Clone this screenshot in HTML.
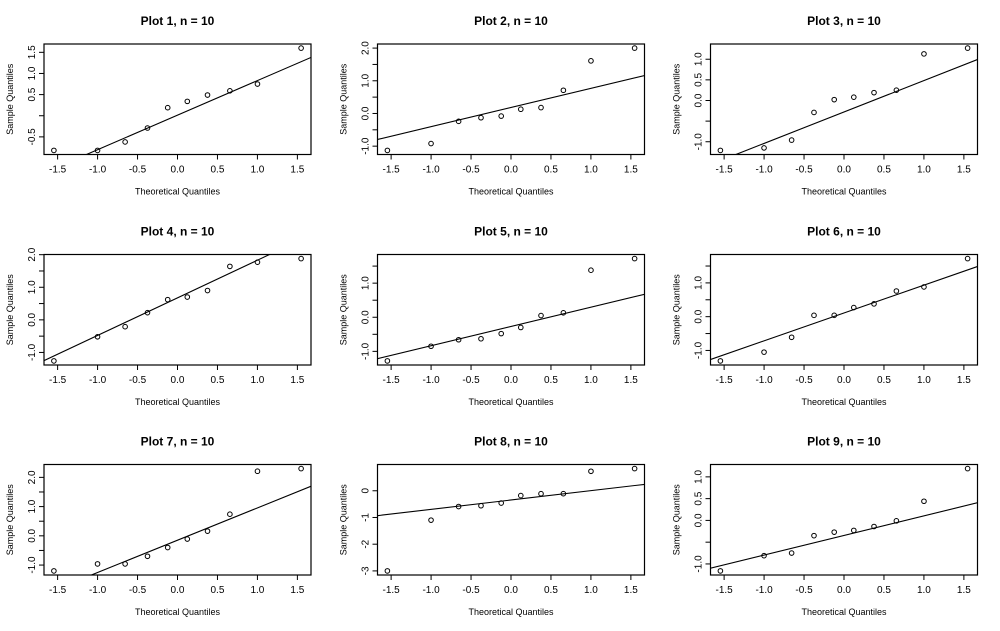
<!DOCTYPE html>
<html><head><meta charset="utf-8"><style>
html,body{margin:0;padding:0;background:#fff;}
svg{display:block;font-family:"Liberation Sans",Arial,sans-serif;}
</style></head><body>
<svg id="chart" width="1000" height="631" viewBox="0 0 1000 631"></svg>
<script>
const plotTitles = ["Plot 1, n = 10","Plot 2, n = 10","Plot 3, n = 10","Plot 4, n = 10","Plot 5, n = 10","Plot 6, n = 10","Plot 7, n = 10","Plot 8, n = 10","Plot 9, n = 10"];
const sample1 = [-0.82,-0.82,-0.62,-0.29,0.19,0.34,0.49,0.59,0.75,1.60];
const sample2 = [-1.13,-0.92,-0.24,-0.13,-0.08,0.13,0.18,0.71,1.61,2.00];
const sample3 = [-1.21,-1.15,-0.96,-0.29,0.02,0.08,0.19,0.25,1.13,1.27];
const sample4 = [-1.26,-0.52,-0.21,0.22,0.62,0.70,0.90,1.64,1.77,1.88];
const sample5 = [-1.28,-0.85,-0.66,-0.63,-0.48,-0.30,0.05,0.13,1.38,1.72];
const sample6 = [-1.31,-1.05,-0.61,0.04,0.04,0.27,0.38,0.76,0.88,1.72];
const sample7 = [-1.20,-0.96,-0.96,-0.70,-0.40,-0.11,0.16,0.74,2.21,2.30];
const sample8 = [-3.00,-1.10,-0.59,-0.56,-0.46,-0.18,-0.11,-0.11,0.73,0.83];
const sample9 = [-1.16,-0.81,-0.75,-0.35,-0.27,-0.23,-0.14,-0.01,0.44,1.19];
const xTicks = [-1.5,-1.0,-0.5,0.0,0.5,1.0,1.5];
const xTickLabels = ["-1.5","-1.0","-0.5","0.0","0.5","1.0","1.5"];
const yTicks1 = [-0.5,0,0.5,1.0,1.5], yLabels1 = ["-0.5","","0.5","1.0","1.5"];
const yTicks2 = [-1,-0.5,0,0.5,1,1.5,2], yLabels2 = ["-1.0","","0.0","","1.0","","2.0"];
const yTicks3 = [-1,-0.5,0,0.5,1], yLabels3 = ["-1.0","","0.0","0.5","1.0"];
const yTicks4 = [-1,-0.5,0,0.5,1,1.5,2], yLabels4 = ["-1.0","","0.0","","1.0","","2.0"];
const yTicks5 = [-1,-0.5,0,0.5,1,1.5], yLabels5 = ["-1.0","","0.0","","1.0",""];
const yTicks6 = [-1,-0.5,0,0.5,1,1.5], yLabels6 = ["-1.0","","0.0","","1.0",""];
const yTicks7 = [-1,-0.5,0,0.5,1,1.5,2], yLabels7 = ["-1.0","","0.0","","1.0","","2.0"];
const yTicks8 = [-3,-2,-1,0], yLabels8 = ["-3","-2","-1","0"];
const yTicks9 = [-1,-0.5,0,0.5,1], yLabels9 = ["-1.0","","0.0","0.5","1.0"];

const samples=[sample1,sample2,sample3,sample4,sample5,sample6,sample7,sample8,sample9];
const yTicks=[yTicks1,yTicks2,yTicks3,yTicks4,yTicks5,yTicks6,yTicks7,yTicks8,yTicks9];
const yLabels=[yLabels1,yLabels2,yLabels3,yLabels4,yLabels5,yLabels6,yLabels7,yLabels8,yLabels9];

const NS="http://www.w3.org/2000/svg";
const svg=document.getElementById('chart');
function mk(tag,attrs,parent){const e=document.createElementNS(NS,tag);for(const k in attrs)e.setAttribute(k,attrs[k]);(parent||svg).appendChild(e);return e;}
function qnorm(p){ // Acklam approximation
  const a=[-39.6968302866538,220.946098424521,-275.928510446969,138.357751867269,-30.6647980661472,2.50662827745924];
  const b=[-54.4760987982241,161.585836858041,-155.698979859887,66.8013118877197,-13.2806815528857];
  const c=[-0.00778489400243029,-0.322396458041136,-2.40075827716184,-2.54973253934373,4.37466414146497,2.93816398269878];
  const d=[0.00778469570904146,0.32246712907004,2.445134137143,3.75440866190742];
  let q,r;
  if(p<0.02425){q=Math.sqrt(-2*Math.log(p));return (((((c[0]*q+c[1])*q+c[2])*q+c[3])*q+c[4])*q+c[5])/((((d[0]*q+d[1])*q+d[2])*q+d[3])*q+1);}
  if(p>1-0.02425){q=Math.sqrt(-2*Math.log(1-p));return -(((((c[0]*q+c[1])*q+c[2])*q+c[3])*q+c[4])*q+c[5])/((((d[0]*q+d[1])*q+d[2])*q+d[3])*q+1);}
  q=p-0.5;r=q*q;return (((((a[0]*r+a[1])*r+a[2])*r+a[3])*r+a[4])*r+a[5])*q/(((((b[0]*r+b[1])*r+b[2])*r+b[3])*r+b[4])*r+1);
}
function quant7(arr,p){const s=[...arr].sort((a,b)=>a-b);const h=(s.length-1)*p;const lo=Math.floor(h);return s[lo]+(h-lo)*((s[Math.min(lo+1,s.length-1)])-s[lo]);}

const colX=[44,377.5,710.5], rowY=[44,254.5,464.5], BW=267, BH=110.5;
const n=10;
for(let k=0;k<9;k++){
  const y=[...samples[k]].sort((a,b)=>a-b);
  const tq=y.map((_,i)=>qnorm((i+1-0.375)/(n+0.25)));
  const xmin=tq[0],xmax=tq[n-1],xr=xmax-xmin;
  const x0=xmin-0.04*xr,x1=xmax+0.04*xr;
  const ymin=Math.min(...y),ymax=Math.max(...y),yr=ymax-ymin;
  const y0=ymin-0.04*yr,y1=ymax+0.04*yr;
  const L=colX[k%3],T=rowY[Math.floor(k/3)];
  const sx=v=>L+(v-x0)/(x1-x0)*BW;
  const sy=v=>T+BH-(v-y0)/(y1-y0)*BH;
  const g=mk('g',{});
  
  
  const t=mk('text',{x:L+BW/2,y:T-19,'text-anchor':'middle','font-size':'12','font-weight':'bold',fill:'#000'},g);
  t.textContent=plotTitles[k];
  
  
  const clipId='clip'+k;
  const cp=mk('clipPath',{id:clipId},g);mk('rect',{x:L,y:T,width:BW,height:BH},cp);
  // qqline
  const q1=quant7(y,0.25),q3=quant7(y,0.75),z1=qnorm(0.25),z3=qnorm(0.75);
  const slope=(q3-q1)/(z3-z1),icpt=q1-slope*z1;
  const ln=mk('line',{x1:sx(x0-1),y1:sy(icpt+slope*(x0-1)),x2:sx(x1+1),y2:sy(icpt+slope*(x1+1)),stroke:'#000','stroke-width':'1.1','clip-path':'url(#'+clipId+')'},g);
  
  
  for(let i=0;i<n;i++){
    const c=mk('circle',{cx:sx(tq[i]),cy:sy(y[i]),r:2.3,fill:'none',stroke:'#000','stroke-width':'1'},g);
    
    
  }
  const box=mk('rect',{x:L,y:T,width:BW,height:BH,fill:'none',stroke:'#000','stroke-width':'1.2'},g);
  
  
  // x axis
  const xa=mk('g',{},g);
  
  
  mk('line',{x1:sx(xTicks[0]),y1:T+BH,x2:sx(xTicks[xTicks.length-1]),y2:T+BH,stroke:'#000'},xa);
  xTicks.forEach((v,i)=>{
    mk('line',{x1:sx(v),y1:T+BH,x2:sx(v),y2:T+BH+5,stroke:'#000'},xa);
    const tl=mk('text',{x:sx(v),y:T+BH+18,'text-anchor':'middle','font-size':'10',fill:'#000'},xa);
    tl.textContent=xTickLabels[i];
  });
  const xt=mk('text',{x:L+BW/2,y:T+BH+40,'text-anchor':'middle','font-size':'9',fill:'#000'},g);
  xt.textContent='Theoretical Quantiles';
  
  
  // y axis
  const ya=mk('g',{},g);
  
  
  const yt=yTicks[k],yl=yLabels[k];
  mk('line',{x1:L,y1:sy(yt[0]),x2:L,y2:sy(yt[yt.length-1]),stroke:'#000'},ya);
  yt.forEach((v,i)=>{
    mk('line',{x1:L-5,y1:sy(v),x2:L,y2:sy(v),stroke:'#000'},ya);
    if(yl[i]){const tl=mk('text',{x:L-9,y:sy(v),'text-anchor':'middle','font-size':'10',fill:'#000',transform:'rotate(-90 '+(L-9)+' '+sy(v)+')'},ya);tl.textContent=yl[i];}
  });
  const ytt=mk('text',{x:L-31,y:T+BH/2,'text-anchor':'middle','font-size':'9',fill:'#000',transform:'rotate(-90 '+(L-31)+' '+(T+BH/2)+')'},g);
  ytt.textContent='Sample Quantiles';
  
  
}
</script>
</body></html>
